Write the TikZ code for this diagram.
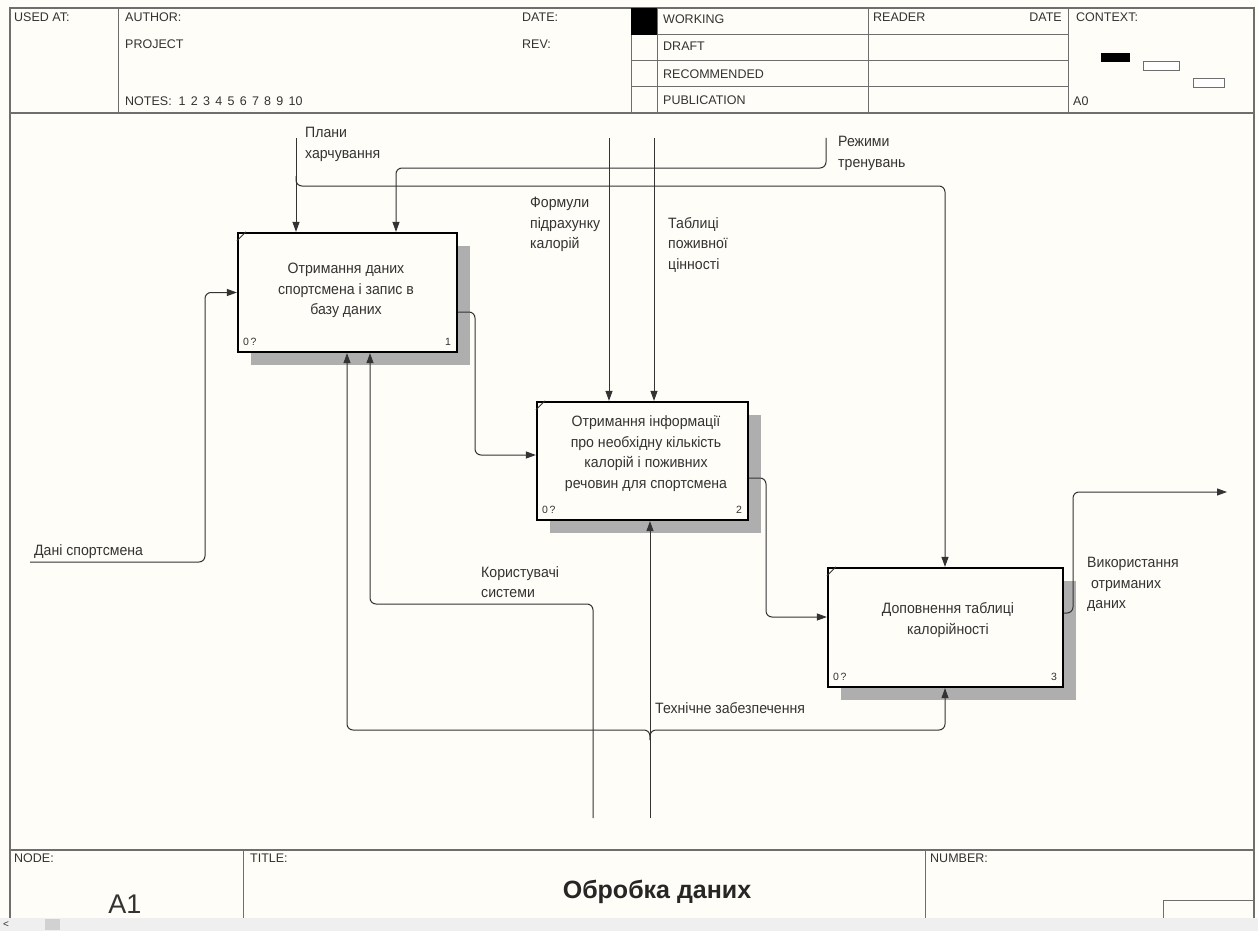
\documentclass[tikz,border=0pt]{standalone}
\usepackage{fontspec}
\setmainfont{Liberation Sans}
\newfontfamily\narrowfont[FakeStretch=0.94]{Liberation Sans}
\usetikzlibrary{arrows.meta,shadows}
\definecolor{paper}{HTML}{FFFDF7}
\definecolor{ink}{HTML}{333333}
\definecolor{rule}{HTML}{6E6E6E}
\definecolor{scroll}{HTML}{EFEFEF}
\definecolor{hatch}{HTML}{AEAEAE}
\newcommand{\numgap}{\ \kern1.8pt}

\begin{document}
\begin{tikzpicture}[x=1pt,y=-1pt,
  frame/.style={draw=rule, line width=1.3pt},
  cell/.style={draw=rule, line width=1pt},
  hdr/.style={anchor=base west, inner sep=0pt, font=\fontsize{12.5}{13}\selectfont, text=ink},
  fnbox/.style={draw=black, line width=2.2pt, fill=paper, inner sep=0pt,
    general shadow={fill=hatch, shadow xshift=13pt, shadow yshift=-13pt}},
  boxtext/.style={align=center, inner sep=0pt, font=\narrowfont\fontsize{15}{20.5}\selectfont, text=ink},
  tag/.style={inner sep=0pt, font=\fontsize{10.5}{10.5}\selectfont, text=ink},
  flow/.style={draw=ink, line width=1pt, rounded corners=6pt},
  arr/.style={flow, -{Triangle[length=10pt,width=7pt]}},
  lbl/.style={anchor=north west, inner sep=0pt, align=left, font=\narrowfont\fontsize{15}{20.5}\selectfont, text=ink},
]
\useasboundingbox (0,0) rectangle (1258,931);
\fill[paper] (0,0) rectangle (1258,931);

% ---------- page frame and header ----------
\draw[frame] (10,918) -- (10,8) -- (1254,8) -- (1254,918);
\draw[frame] (10,113) -- (1254,113);
\foreach \x in {118,631,657,868,1068} \draw[cell] (\x,8) -- (\x,113);
\foreach \y in {35,61,87} \draw[cell] (631,\y) -- (1068,\y);
\fill[black] (631,8) rectangle (657,35);

\node[hdr] (usedat) at (14,21.5) {USED AT:};
\node[hdr] (author) at (125,21.5) {AUTHOR:};
\node[hdr] (project) at (125,48.5) {PROJECT};
\node[hdr] (notes) at (125,105.5) {NOTES:\ \ 1\numgap 2\numgap 3\numgap 4\numgap 5\numgap 6\numgap 7\numgap 8\numgap 9\numgap 10};
\node[hdr] (date) at (522,21.5) {DATE:};
\node[hdr] (rev) at (522,48.5) {REV:};
\node[hdr] (working) at (663,23.5) {WORKING};
\node[hdr] (draft) at (663,51) {DRAFT};
\node[hdr] (recom) at (663,78.5) {RECOMMENDED};
\node[hdr] (publ) at (663,104.5) {PUBLICATION};
\node[hdr] (reader) at (873,21.5) {READER};
\node[hdr, anchor=base east] (rdate) at (1062,21.5) {DATE};
\node[hdr] (context) at (1076,21.5) {CONTEXT:};
\node[hdr] (azero) at (1073,105.5) {A0};

\fill[black] (1101,53) rectangle (1130,62);
\draw[cell, fill=white] (1143,62) rectangle (1179,71);
\draw[cell, fill=white] (1193,79) rectangle (1224,88);

% ---------- footer ----------
\draw[frame] (10,850) -- (1254,850);
\draw[cell] (243,850) -- (243,918);
\draw[cell] (925,850) -- (925,918);
\draw[cell] (1163,918) -- (1163,900) -- (1254,900);
\node[hdr] (nodelbl) at (14,862) {NODE:};
\node[hdr] (titlelbl) at (250,862) {TITLE:};
\node[hdr] (numlbl) at (930,862) {NUMBER:};
\node[inner sep=0pt, font=\fontsize{27}{27}\selectfont, text=ink] (nodeid) at (125,904) {A1};
\node[inner sep=0pt, font=\bfseries\fontsize{25}{25}\selectfont, text=black!85] (title) at (657,892) {Обробка даних};

% window scroll strip
\fill[scroll] (0,918) rectangle (1258,931);
\fill[black!18] (45,919) rectangle (60,930);
\node[inner sep=0pt, font=\fontsize{10}{10}\selectfont, text=ink] (scrl) at (6,925) {\textless};

% ---------- function boxes ----------
\node[fnbox, minimum width=219pt, minimum height=119pt] (b1) at (347.5,292.5) {};
\node[fnbox, minimum width=211pt, minimum height=118pt] (b2) at (642.5,461) {};
\node[fnbox, minimum width=235pt, minimum height=119pt] (b3) at (945.5,627.5) {};

\foreach \b in {b1,b2,b3}
  \draw[ink, line width=0.9pt] ([yshift=-9pt]\b.north west) -- ([xshift=9pt]\b.north west);

\node[boxtext] (t1) at (346,290.5) {Отримання даних\\спортсмена і запис в\\базу даних};
\node[boxtext] (t2) at (646,453.5) {Отримання інформації\\про необхідну кількість\\калорій і поживних\\речовин для спортсмена};
\node[boxtext] (t3) at (948,620) {Доповнення таблиці\\калорійності};

\node[tag, anchor=south west] (n1a) at ([xshift=6pt,yshift=7pt]b1.south west) {0\,?};
\node[tag, anchor=south east] (n1b) at ([xshift=-7pt,yshift=7pt]b1.south east) {1};
\node[tag, anchor=south west] (n2a) at ([xshift=6pt,yshift=7pt]b2.south west) {0\,?};
\node[tag, anchor=south east] (n2b) at ([xshift=-7pt,yshift=7pt]b2.south east) {2};
\node[tag, anchor=south west] (n3a) at ([xshift=6pt,yshift=7pt]b3.south west) {0\,?};
\node[tag, anchor=south east] (n3b) at ([xshift=-7pt,yshift=7pt]b3.south east) {3};

% ---------- free ends of the arrows ----------
\coordinate (planTop) at (296,138);
\coordinate (modeTop) at (826,138);
\coordinate (formTop) at (609,138);
\coordinate (tablTop) at (654,138);
\coordinate (dataIn) at (30,562);
\coordinate (userBot) at (593,818);
\coordinate (techBot) at (650,818);
\coordinate (useOut) at (1227,492);

% ---------- controls ----------
\draw[arr] (planTop) -- (planTop |- b1.north);
\draw[arr] (296,176) -- (296,186) -- (945,186) -- (945,0 |- b3.north);
\draw[arr] (modeTop) -- (826,168) -- (396,168) -- (396,0 |- b1.north);
\draw[arr] (formTop) -- (formTop |- b2.north);
\draw[arr] (tablTop) -- (tablTop |- b2.north);

% ---------- inputs and outputs ----------
\draw[arr] (dataIn) -- (205,562) -- (205,0 |- b1.west) -- (b1.west);
\draw[arr] (b1.east |- 0,312) -- (475,312) -- (475,455) -- (b2.west |- 0,455);
\draw[arr] (b2.east |- 0,478) -- (766,478) -- (766,617) -- (b3.west |- 0,617);
\draw[arr] (b3.east |- 0,613) -- (1073,613) -- (1073,492) -- (useOut);

% ---------- mechanisms ----------
\draw[arr] (userBot) -- (593,604) -- (370,604) -- (370,0 |- b1.south);
\draw[arr] (techBot) -- (techBot |- b2.south);
\draw[arr] (650,740) -- (650,730) -- (347,730) -- (347,0 |- b1.south);
\draw[arr] (650,740) -- (650,730) -- (945,730) -- (945,0 |- b3.south);

% ---------- arrow labels ----------
\node[lbl] (lPlan) at (305,127) {Плани\\харчування};
\node[lbl] (lMode) at (838,136) {Режими\\тренувань};
\node[lbl] (lForm) at (530,197) {Формули\\підрахунку\\калорій};
\node[lbl] (lTabl) at (668,217) {Таблиці\\поживної\\цінності};
\node[lbl, anchor=base west] (lData) at (34,555) {Дані спортсмена};
\node[lbl] (lUser) at (481,566) {Користувачі\\системи};
\node[lbl, anchor=base west] (lTech) at (655,713) {Технічне забезпечення};
\node[lbl] (lUse) at (1087,557) {Використання\\\ отриманих\\даних};
\end{tikzpicture}
\end{document}
